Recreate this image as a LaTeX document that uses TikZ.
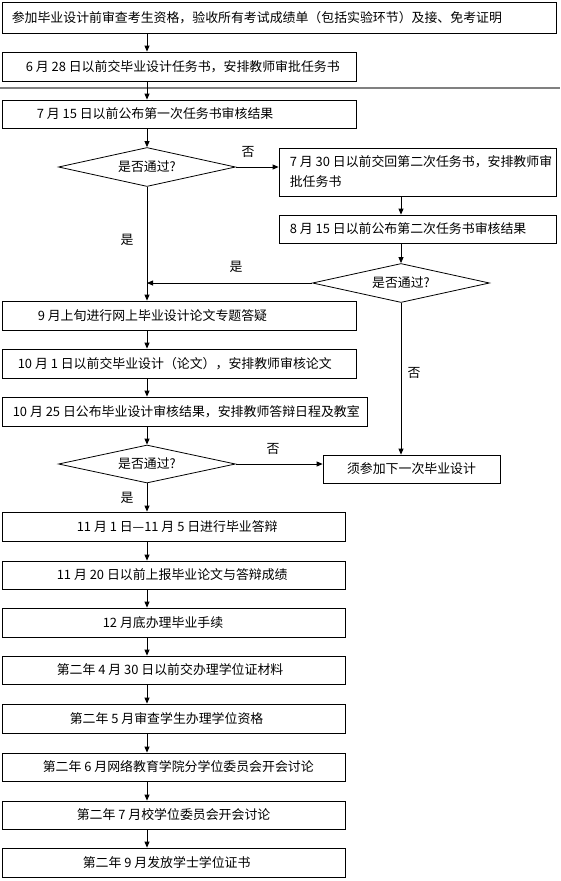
\documentclass[tikz,border=0pt]{standalone}
\usepackage{fontspec}
\setmainfont{Noto Sans CJK SC}
\usetikzlibrary{arrows.meta,shapes.geometric}
\begin{document}
\begin{tikzpicture}[x=1pt,y=-1pt,
  every node/.style={font=\fontsize{12.9}{20}\selectfont, text=black},
  box/.style={draw=black, line width=0.8pt, inner sep=0pt, fill=white},
  txt/.style={anchor=west, inner sep=0pt, align=left},
  dia/.style={diamond, draw=black, line width=0.8pt, inner sep=0pt, aspect=4.5, minimum width=177pt, minimum height=39pt, fill=white},
  arr/.style={line width=0.8pt, -{Triangle[length=6pt,width=5pt]}},
  lbl/.style={inner sep=0pt}]
\useasboundingbox (0,0) rectangle (560,881);
\fill[white] (0,0) rectangle (560,881);
\coordinate (spine) at (147,0);
\coordinate (gl1) at (0,88);
\coordinate (gl2) at (560,88);
\draw[line width=1.5pt, color=black!50] (gl1) -- (gl2);

% boxes
\node[box, minimum width=554pt, minimum height=31pt] (b1) at (279,17.5) {};
\node[box, minimum width=354pt, minimum height=29pt] (b2) at (179,66.5) {};
\node[box, minimum width=354pt, minimum height=28pt] (b3) at (179,114) {};
\node[box, minimum width=277pt, minimum height=48pt] (b4) at (417.5,172) {};
\node[box, minimum width=277pt, minimum height=28pt] (b5) at (417.5,229) {};
\node[box, minimum width=354pt, minimum height=29pt] (b6) at (179,315.5) {};
\node[box, minimum width=354pt, minimum height=29pt] (b7) at (179,363.5) {};
\node[box, minimum width=365pt, minimum height=29pt] (b8) at (184.5,411.5) {};
\node[box, minimum width=177pt, minimum height=28pt] (b9) at (411.5,469) {须参加下一次毕业设计};
\node[box, minimum width=343pt, minimum height=29pt] (b10) at (173.5,526.5) {};
\node[box, minimum width=343pt, minimum height=28pt] (b11) at (173.5,575) {};
\node[box, minimum width=343pt, minimum height=29pt] (b12) at (173.5,622.5) {};
\node[box, minimum width=343pt, minimum height=28pt] (b13) at (173.5,670) {};
\node[box, minimum width=343pt, minimum height=29pt] (b14) at (173.5,718.5) {};
\node[box, minimum width=343pt, minimum height=28pt] (b15) at (173.5,767) {};
\node[box, minimum width=343pt, minimum height=28pt] (b16) at (173.5,815) {};
\node[box, minimum width=343pt, minimum height=29pt] (b17) at (173.5,862.5) {};

% diamonds
\node[dia] (d1) at (147,167) {是否通过?\hspace{22pt}};
\node[dia] (d2) at (401,283) {是否通过?\hspace{22pt}};
\node[dia, minimum height=38pt] (d3) at (147,464) {是否通过?\hspace{22pt}};

% texts
\node[txt] (t1) at ([xshift=10pt]b1.west) {参加毕业设计前审查考生资格，验收所有考试成绩单（包括实验环节）及接、免考证明};
\node[txt] (t2) at ([xshift=24pt]b2.west) {6 月 28 日以前交毕业设计任务书，安排教师审批任务书};
\node[txt] (t3) at ([xshift=35pt]b3.west) {7 月 15 日以前公布第一次任务书审核结果};
\node[txt] (t4) at ([xshift=11pt]b4.west) {7 月 30 日以前交回第二次任务书，安排教师审\\批任务书};
\node[txt] (t5) at ([xshift=11pt]b5.west) {8 月 15 日以前公布第二次任务书审核结果};
\node[txt] (t6) at ([xshift=36pt]b6.west) {9 月上旬进行网上毕业设计论文专题答疑};
\node[txt] (t7) at ([xshift=16pt]b7.west) {10 月 1 日以前交毕业设计（论文），安排教师审核论文};
\node[txt] (t8) at ([xshift=11pt]b8.west) {10 月 25 日公布毕业设计审核结果，安排教师答辩日程及教室};
\node[txt] (t10) at ([xshift=75pt]b10.west) {11 月 1 日—11 月 5 日进行毕业答辩};
\node[txt] (t11) at ([xshift=55pt]b11.west) {11 月 20 日以前上报毕业论文与答辩成绩};
\node[txt] (t12) at ([xshift=101pt]b12.west) {12 月底办理毕业手续};
\node[txt] (t13) at ([xshift=55pt]b13.west) {第二年 4 月 30 日以前交办理学位证材料};
\node[txt] (t14) at ([xshift=68pt]b14.west) {第二年 5 月审查学生办理学位资格};
\node[txt] (t15) at ([xshift=41pt]b15.west) {第二年 6 月网络教育学院分学位委员会开会讨论};
\node[txt] (t16) at ([xshift=75pt]b16.west) {第二年 7 月校学位委员会开会讨论};
\node[txt] (t17) at ([xshift=81pt]b17.west) {第二年 9 月发放学士学位证书};

% labels
\node[lbl] (l1) at (248,152) {否};
\node[lbl] (l2) at (127,240) {是};
\node[lbl] (l3) at (236,267) {是};
\node[lbl] (l4) at (414,373) {否};
\node[lbl] (l5) at (273,449) {否};
\node[lbl] (l6) at (127,498) {是};

% connectors
\draw[arr] (b1.south -| spine) -- (b2.north -| spine);
\draw[arr] (b2.south -| spine) -- (b3.north -| spine);
\draw[arr] (b3.south -| spine) -- (d1.north);
\draw[arr] (d1.east) -- (d1.east -| b4.west);
\draw[arr] (b4.south -| d2) -- (b5.north -| d2);
\draw[arr] (b5.south -| d2) -- (d2.north);
\draw[arr] (d2.west) -- (d2.west -| spine);
\draw[arr] (d1.south) -- (b6.north -| spine);
\draw[arr] (d2.south) -- (b9.north -| d2);
\draw[arr] (b6.south -| spine) -- (b7.north -| spine);
\draw[arr] (b7.south -| spine) -- (b8.north -| spine);
\draw[arr] (b8.south -| spine) -- (d3.north);
\draw[arr] (d3.east) -- (d3.east -| b9.west);
\draw[arr] (d3.south) -- (b10.north -| spine);
\draw[arr] (b10.south -| spine) -- (b11.north -| spine);
\draw[arr] (b11.south -| spine) -- (b12.north -| spine);
\draw[arr] (b12.south -| spine) -- (b13.north -| spine);
\draw[arr] (b13.south -| spine) -- (b14.north -| spine);
\draw[arr] (b14.south -| spine) -- (b15.north -| spine);
\draw[arr] (b15.south -| spine) -- (b16.north -| spine);
\draw[arr] (b16.south -| spine) -- (b17.north -| spine);
\end{tikzpicture}
\end{document}
